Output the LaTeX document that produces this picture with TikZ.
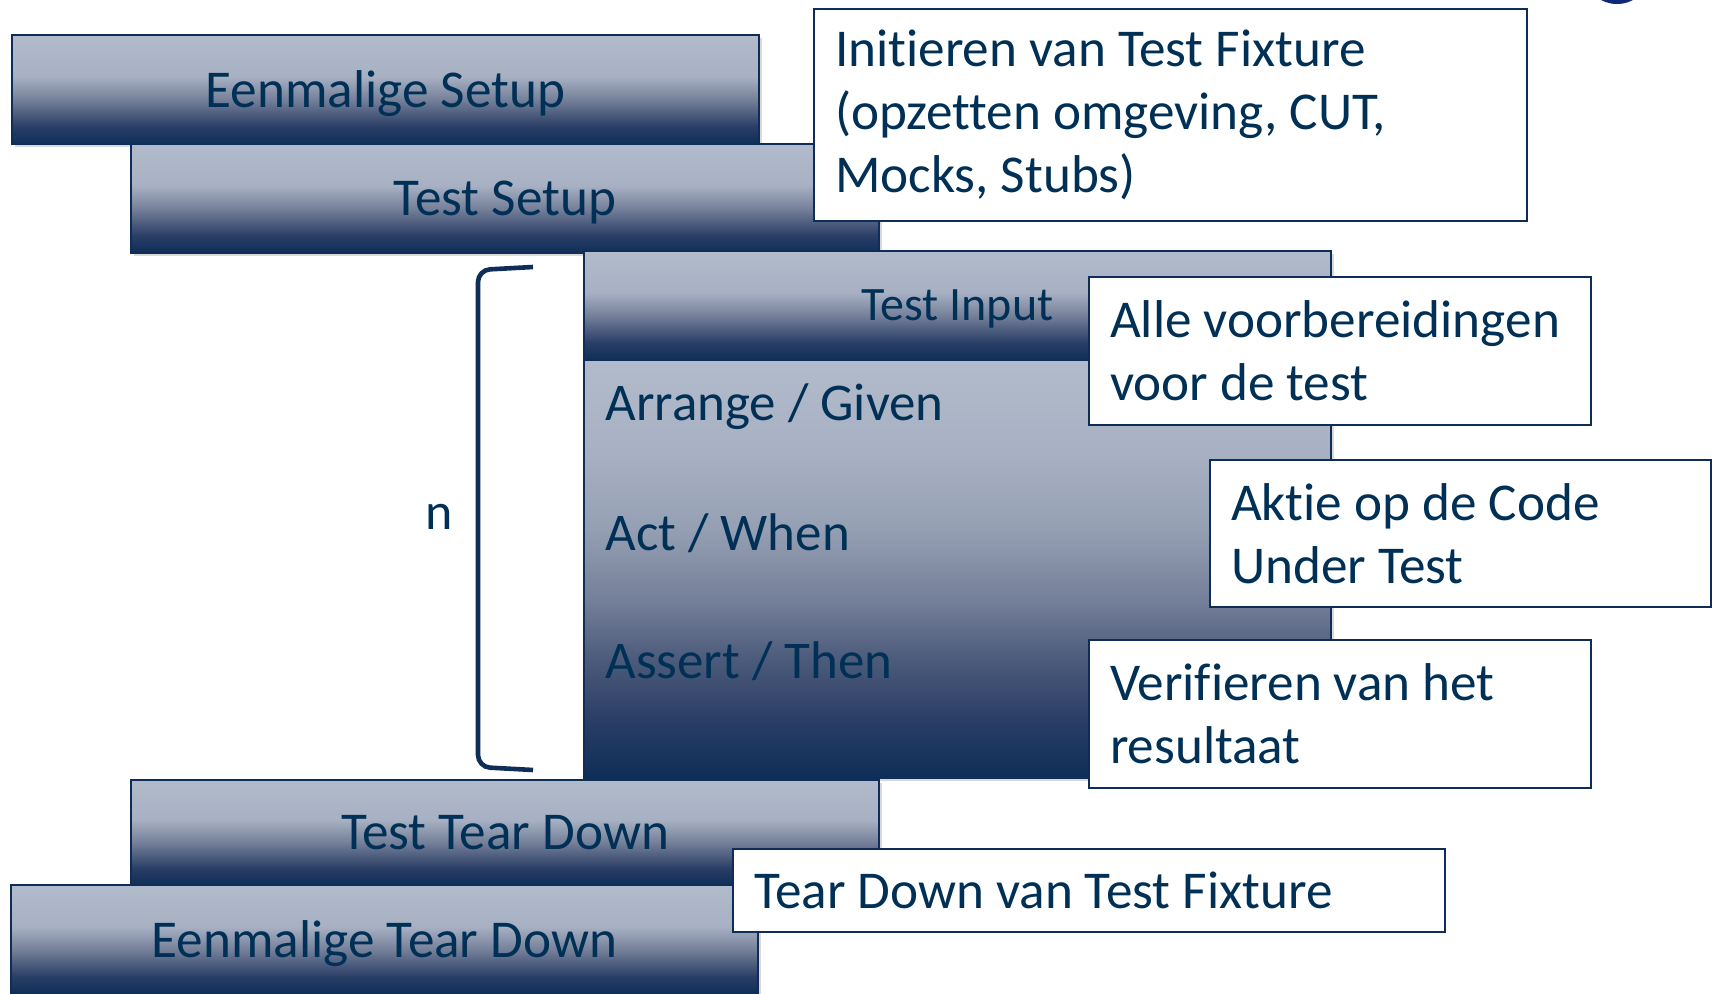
\documentclass[tikz,border=0pt]{standalone}
\usepackage{fontspec}
\setmainfont{Carlito}[Ligatures=NoCommon]
\usepackage{xcolor}
\usepackage{tikz}
\usetikzlibrary{positioning, shadows}
\definecolor{navy}{RGB}{14,46,88}
\definecolor{navytext}{RGB}{0,48,85}
\definecolor{navysoft}{RGB}{42,62,102}
\definecolor{navymid}{RGB}{75,90,122}
\definecolor{midbar}{RGB}{115,126,152}
\definecolor{greybar}{RGB}{150,160,180}
\definecolor{paleb}{RGB}{168,177,195}
\definecolor{lightbar}{RGB}{178,187,203}
\definecolor{logoblue}{RGB}{16,40,120}
\pgfdeclareverticalshading{barshade}{100bp}{color(0bp)=(navy); color(25bp)=(navy); color(33bp)=(navysoft); color(45bp)=(midbar); color(56bp)=(paleb); color(75bp)=(lightbar); color(100bp)=(lightbar)}
\pgfdeclareverticalshading{bodyshade}{100bp}{color(0bp)=(navy); color(25bp)=(navy); color(32bp)=(navysoft); color(39bp)=(navymid); color(46bp)=(midbar); color(55bp)=(greybar); color(64bp)=(paleb); color(75bp)=(lightbar); color(100bp)=(lightbar)}
\tikzset{
	bar/.style={draw=navy, line width=0.7pt, shade, shading=barshade, text=navytext, inner sep=0pt,
		text depth=0pt, font=\fontsize{26.6}{31}\selectfont,
		drop shadow={shadow xshift=1.5pt, shadow yshift=-1.5pt, opacity=0.3}},
	note/.style={draw=navy, line width=1pt, fill=white, text=navytext, align=left,
		inner xsep=10.5pt, inner ysep=0pt, font=\fontsize{26.6}{31.5}\selectfont,
		execute at begin node={\spaceskip=0pt\xspaceskip=0pt\relax}}
}

\begin{document}
\begin{tikzpicture}[
	x=0.5pt, y=-0.5pt,
	step label/.style={anchor=west, text=navytext, inner sep=0pt, font=\fontsize{26.5}{31.5}\selectfont}]
	\useasboundingbox (0,0) rectangle (1713,994);
	\begin{scope}
		\clip (0,0) rectangle (1713,994);
		\fill[logoblue] (1617,-20) ellipse [x radius=29, y radius=24];
	\end{scope}
	% setup
	\node[bar, minimum width=373.5pt, minimum height=54.5pt] (oncesetup) at (385.5,89.5) {Eenmalige Setup};
	\node[bar, minimum width=374pt, minimum height=54.5pt] (testsetup) at (505,198.5) {Test Setup};
	\node[note, text width=335.5pt, minimum height=106pt] (fixnote) at (1170.5,115)
		{Initieren van Test Fixture\\(opzetten omgeving, CUT,\\Mocks, Stubs)};
	% test body
	\node[bar, minimum width=373.5pt, minimum height=54.5pt, font=\fontsize{24}{28}\selectfont] (input) at (957.5,305.5) {Test Input};
	\node[bar, shading=bodyshade, minimum width=373.5pt, minimum height=209pt] (body) at (957.5,569) {};
	\node[step label] (arrange) at (605,407) {Arrange / Given};
	\node[step label] (act) at (605,533) {Act / When};
	\node[step label] (assert) at (605,661) {Assert / Then};
	\node[note, text width=230pt, minimum height=74pt] (arrnote) at (1340,351) {Alle voorbereidingen\\voor de test};
	\node[note, text width=229.5pt, minimum height=73.5pt] (actnote) at (1460.5,533.5) {Aktie op de Code\\Under Test};
	\node[note, text width=230pt, minimum height=74pt] (assnote) at (1340,714) {Verifieren van het\\resultaat};
	% repeat bracket
	\draw[navy, line width=2.3pt, rounded corners=6pt] (533,267) -- (478,270) -- (478,767) -- (533,770);
	\node[text=navytext, font=\fontsize{26}{31.5}\selectfont] (rep) at (439,517) {n};
	% tear down
	\node[bar, minimum width=374pt, minimum height=52.5pt] (testdown) at (505,832.5) {Test Tear Down};
	\node[bar, minimum width=373.5pt, minimum height=54.5pt] (oncedown) at (384.5,939.5) {Eenmalige Tear Down};
	\node[note, text width=335pt, minimum height=41.5pt] (downnote) at (1089,890.5) {Tear Down van Test Fixture};
\end{tikzpicture}
\end{document}
